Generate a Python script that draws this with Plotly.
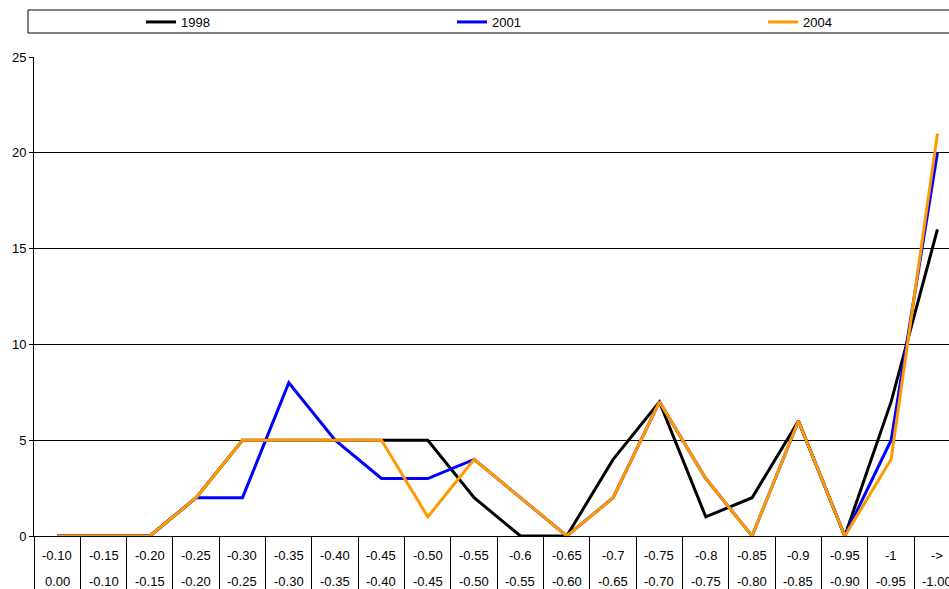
import plotly.graph_objects as go

upper_labels = ["-0.10", "-0.15", "-0.20", "-0.25", "-0.30", "-0.35", "-0.40", "-0.45", "-0.50", "-0.55",
                "-0.6", "-0.65", "-0.7", "-0.75", "-0.8", "-0.85", "-0.9", "-0.95", "-1", "->"]
lower_labels = ["0.00", "-0.10", "-0.15", "-0.20", "-0.25", "-0.30", "-0.35", "-0.40", "-0.45", "-0.50",
                "-0.55", "-0.60", "-0.65", "-0.70", "-0.75", "-0.80", "-0.85", "-0.90", "-0.95", "-1.00"]
categories = [f"{u} / {l}" for u, l in zip(upper_labels, lower_labels)]

series_names = ["1998", "2001", "2004"]
values_1998 = [0, 0, 0, 2, 5, 5, 5, 5, 5, 2, 0, 0, 4, 7, 1, 2, 6, 0, 7, 16]
values_2001 = [0, 0, 0, 2, 2, 8, 5, 3, 3, 4, 2, 0, 2, 7, 3, 0, 6, 0, 5, 20]
values_2004 = [0, 0, 0, 2, 5, 5, 5, 5, 1, 4, 2, 0, 2, 7, 3, 0, 6, 0, 4, 21]
series_values = [values_1998, values_2001, values_2004]
colors = ["#000000", "#0000FF", "#FF9900"]

FONT = "Liberation Sans, Arial, sans-serif"
FS = 13
W, H = 949, 589
ML, MT, MB = 34, 57, 53
plot_w = W - ML
plot_h = H - MT - MB
cat_w = 46.33


def px_x(p):
    return (p - ML) / plot_w


def px_y(p):
    return (MT + plot_h - p) / plot_h


legend_ids = ["legend", "legend2", "legend3"]
legend_px = [141, 452, 763]

fig = go.Figure()
for name, vals, col, lid in zip(series_names, series_values, colors, legend_ids):
    fig.add_trace(go.Scatter(x=categories, y=vals, mode="lines", name=name, legend=lid,
                             line=dict(color=col, width=3)))

annotations = []
for i, (u, l) in enumerate(zip(upper_labels, lower_labels)):
    annotations.append(dict(x=i, xref="x", y=px_y(555), yref="paper", text=u,
                            showarrow=False, yanchor="middle",
                            font=dict(family=FONT, size=FS, color="#000")))
    annotations.append(dict(x=i, xref="x", y=px_y(581), yref="paper", text=l,
                            showarrow=False, yanchor="middle",
                            font=dict(family=FONT, size=FS, color="#000")))

shapes = [dict(type="rect", xref="paper", yref="paper",
               x0=px_x(28), x1=px_x(975), y0=px_y(33), y1=px_y(10),
               line=dict(color="#000", width=1), fillcolor="rgba(0,0,0,0)")]

legend_common = dict(orientation="h", xanchor="left", y=px_y(22), yanchor="middle",
                     bgcolor="rgba(0,0,0,0)", borderwidth=0,
                     font=dict(family=FONT, size=FS, color="#000"),
                     itemclick=False, itemdoubleclick=False)

fig.update_layout(
    width=W, height=H,
    margin=dict(l=ML, r=0, t=MT, b=MB, pad=0),
    paper_bgcolor="white", plot_bgcolor="white",
    font=dict(family=FONT, size=FS, color="#000"),
    showlegend=True,
    legend=dict(x=px_x(legend_px[0]), **legend_common),
    legend2=dict(x=px_x(legend_px[1]), **legend_common),
    legend3=dict(x=px_x(legend_px[2]), **legend_common),
    xaxis=dict(type="category", range=[-0.5, -0.5 + plot_w / cat_w],
               showticklabels=False, ticks="outside", tickson="boundaries",
               ticklen=53, tickcolor="#000", tickwidth=1,
               showline=True, linecolor="#000", linewidth=1,
               showgrid=False, zeroline=False, fixedrange=True),
    yaxis=dict(range=[0, 25], tickvals=[0, 5, 10, 15, 20, 25],
               ticks="outside", ticklen=4, tickcolor="#000", tickwidth=1,
               showline=True, linecolor="#000", linewidth=1,
               showgrid=True, gridcolor="#000", gridwidth=1,
               zeroline=False, tickfont=dict(family=FONT, size=FS, color="#000"),
               fixedrange=True),
    annotations=annotations,
    shapes=shapes,
)

fig.write_html("out.html", config={"displayModeBar": False},
               post_script="document.body.style.margin='0';document.body.style.overflow='hidden';")
